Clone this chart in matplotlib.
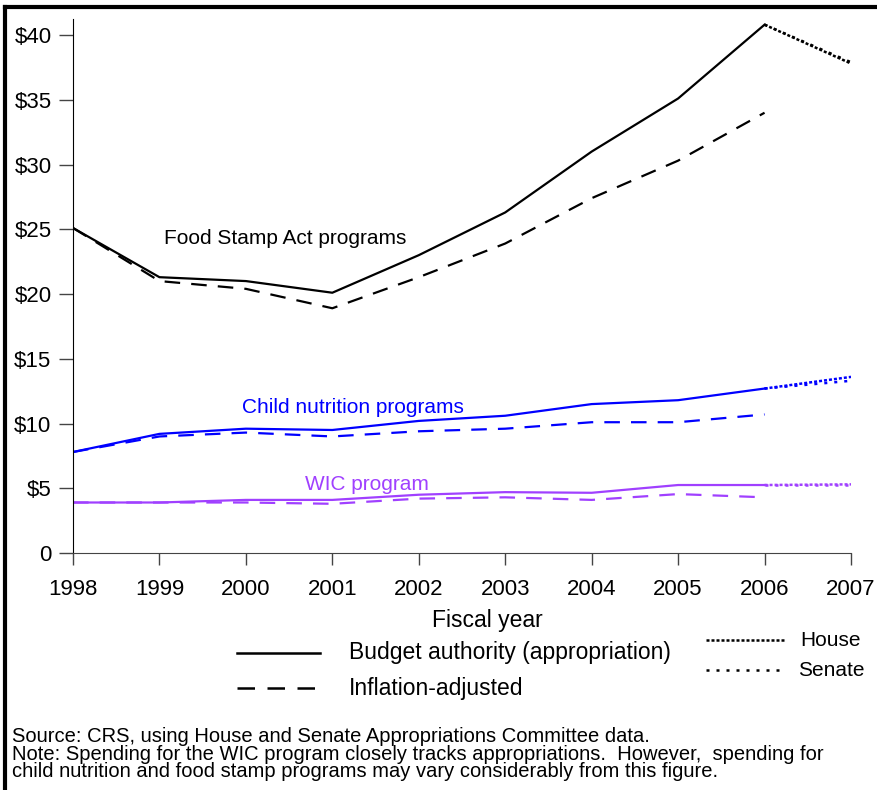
import numpy as np
import matplotlib.pyplot as plt
from matplotlib.lines import Line2D

plt.rcParams['font.family'] = ['Liberation Sans', 'DejaVu Sans']

# ---------------------------------------------------------
# DATA (billions of dollars, budget authority)
# ---------------------------------------------------------
years = [1998, 1999, 2000, 2001, 2002, 2003, 2004, 2005, 2006]
proj_years = [2006, 2007]

food_stamp = [25.1, 21.3, 21.0, 20.1, 23.0, 26.3, 31.0, 35.1, 40.8]
food_stamp_real = [25.1, 21.0, 20.4, 18.9, 21.3, 23.9, 27.4, 30.3, 34.0]
food_stamp_house = [40.8, 37.8]
food_stamp_senate = [40.8, 37.9]

child_nutr = [7.8, 9.2, 9.6, 9.5, 10.2, 10.6, 11.5, 11.8, 12.7]
child_nutr_real = [7.8, 9.0, 9.3, 9.0, 9.4, 9.6, 10.1, 10.1, 10.7]
child_nutr_house = [12.7, 13.6]
child_nutr_senate = [12.7, 13.3]

wic = [3.9, 3.9, 4.1, 4.1, 4.5, 4.7, 4.65, 5.25, 5.25]
wic_real = [3.9, 3.9, 3.9, 3.8, 4.2, 4.3, 4.1, 4.55, 4.3]
wic_house = [5.25, 5.3]
wic_senate = [5.25, 5.25]

yticks = [0, 5, 10, 15, 20, 25, 30, 35, 40]
ytick_labels = ["0", "$5", "$10", "$15", "$20", "$25", "$30", "$35", "$40"]
xticks = list(range(1998, 2008))

BLACK = "black"
BLUE = "#0000FF"
PURPLE = "#A040FF"

HOUSE_LS = (0, (1.2, 0.8))
SENATE_LS = (0, (1.2, 2.8))
DASH_LS = (0, (7, 5))

fig = plt.figure(figsize=(8.78, 7.9), dpi=100)
ax = fig.add_axes([73 / 878, 1 - 553 / 790, (851 - 73) / 878, (553 - 19.5) / 790])

series = [
    (food_stamp, food_stamp_real, food_stamp_house, food_stamp_senate, BLACK),
    (child_nutr, child_nutr_real, child_nutr_house, child_nutr_senate, BLUE),
    (wic, wic_real, wic_house, wic_senate, PURPLE),
]
for actual, real, house, senate, col in series:
    ax.plot(years, actual, color=col, lw=1.6, solid_joinstyle="round")
    ax.plot(years, real, color=col, lw=1.6, linestyle=DASH_LS)
    ax.plot(proj_years, house, color=col, lw=1.8, linestyle=HOUSE_LS)
    ax.plot(proj_years, senate, color=col, lw=1.8, linestyle=SENATE_LS)

ax.text(1999.05, 24.25, "Food Stamp Act programs", color=BLACK, fontsize=15,
        ha="left", va="center")
ax.text(1999.96, 11.2, "Child nutrition programs", color=BLUE, fontsize=15,
        ha="left", va="center")
ax.text(2000.68, 5.3, "WIC program", color=PURPLE, fontsize=15,
        ha="left", va="center")

ax.set_xlim(1998, 2007)
ax.set_ylim(0, 41.2)
ax.set_xticks(xticks)
ax.set_xticklabels([str(y) for y in xticks], fontsize=16)
ax.set_yticks(yticks)
ax.set_yticklabels(ytick_labels, fontsize=16)
ax.tick_params(axis="x", length=8.6, width=1, color="#444444", pad=10)
ax.tick_params(axis="y", length=10, width=1, color="#444444", pad=5.5)
ax.spines["top"].set_visible(False)
ax.spines["right"].set_visible(False)
ax.spines["left"].set_color("black")
ax.spines["bottom"].set_color("#444444")
ax.set_xlabel("Fiscal year", fontsize=16.5)
ax.xaxis.set_label_coords(0.532, -0.105)

# Legend drawn in figure pixels
def fx(px):
    return px / 878

def fy(py):
    return 1 - py / 790

legend_items = [
    (237, 320, 653, "-", "Budget authority (appropriation)", 349, 16.5),
    (237, 320, 688, DASH_LS, "Inflation-adjusted", 349, 16.5),
    (706, 786, 640, HOUSE_LS, "House", 800, 15),
    (706, 786, 670, SENATE_LS, "Senate", 798, 15),
]
for x0, x1, yy, ls, label, tx, fs in legend_items:
    fig.add_artist(Line2D([fx(x0), fx(x1)], [fy(yy), fy(yy)], color="black",
                          lw=1.8, linestyle=ls))
    fig.text(fx(tx), fy(yy), label, fontsize=fs, ha="left", va="center")

notes = [
    "Source: CRS, using House and Senate Appropriations Committee data.",
    "Note: Spending for the WIC program closely tracks appropriations.  However,  spending for",
    "child nutrition and food stamp programs may vary considerably from this figure.",
]
fig.text(fx(12), fy(754), "\n".join(notes), fontsize=14.5, ha="left", va="center",
         linespacing=0.9)

# Frame edges (top and left) as in the source clipping
fig.add_artist(Line2D([fx(5), fx(878)], [fy(7), fy(7)], color="black", lw=3))
fig.add_artist(Line2D([fx(5), fx(5)], [fy(7), fy(790)], color="black", lw=3))

fig.savefig("out.png", dpi=100, facecolor="white")
plt.close(fig)
